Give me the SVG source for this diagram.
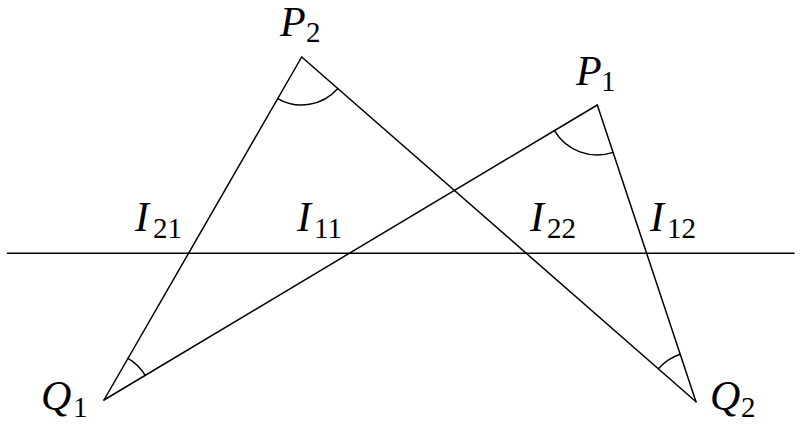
<svg xmlns="http://www.w3.org/2000/svg" width="804" height="426" viewBox="0 0 804 426">
<style>
.ln{stroke:#000;stroke-width:1.5;fill:none;stroke-linecap:round}
.lb{font-family:"Liberation Serif","DejaVu Serif",serif;font-style:italic;font-size:42px;fill:#000}
.sb{font-family:"Liberation Serif","DejaVu Serif",serif;font-style:normal;font-size:29px;fill:#000}
</style>
<rect width="804" height="426" fill="#fff"/>
<g id="connectors">
<line class="ln" x1="7.5" y1="253.3" x2="794" y2="253.3"/>
<line class="ln" x1="301.7" y1="57" x2="104" y2="400"/>
<line class="ln" x1="301.7" y1="57" x2="696" y2="401.7"/>
<line class="ln" x1="597.3" y1="105" x2="104" y2="400"/>
<line class="ln" x1="597.3" y1="105" x2="696" y2="401.7"/>
<path class="ln" d="M277.7,98.6 A48,48 0 0 0 337.8,88.6"/>
<path class="ln" d="M554.4,130.7 A50,50 0 0 0 613.1,152.4"/>
<path class="ln" d="M128.0,358.4 A48,48 0 0 1 145.2,375.4"/>
<path class="ln" d="M658.4,368.8 A50,50 0 0 1 680.2,354.3"/>
</g>
<g id="P2"><text class="lb" x="280" y="36">P</text><text class="sb" x="306" y="42">2</text></g>
<g id="P1"><text class="lb" x="576" y="85">P</text><text class="sb" x="601" y="91">1</text></g>
<g id="Q1"><text class="lb" x="41" y="410">Q</text><text class="sb" x="73" y="417">1</text></g>
<g id="Q2"><text class="lb" x="710" y="410">Q</text><text class="sb" x="741" y="417">2</text></g>
<g id="I21"><text class="lb" x="135" y="231">I</text><text class="sb" x="153" y="238">21</text></g>
<g id="I11"><text class="lb" x="297" y="231">I</text><text class="sb" x="314" y="238">11</text></g>
<g id="I22"><text class="lb" x="530" y="231">I</text><text class="sb" x="547" y="238">22</text></g>
<g id="I12"><text class="lb" x="650" y="231">I</text><text class="sb" x="667" y="238">12</text></g>
</svg>
